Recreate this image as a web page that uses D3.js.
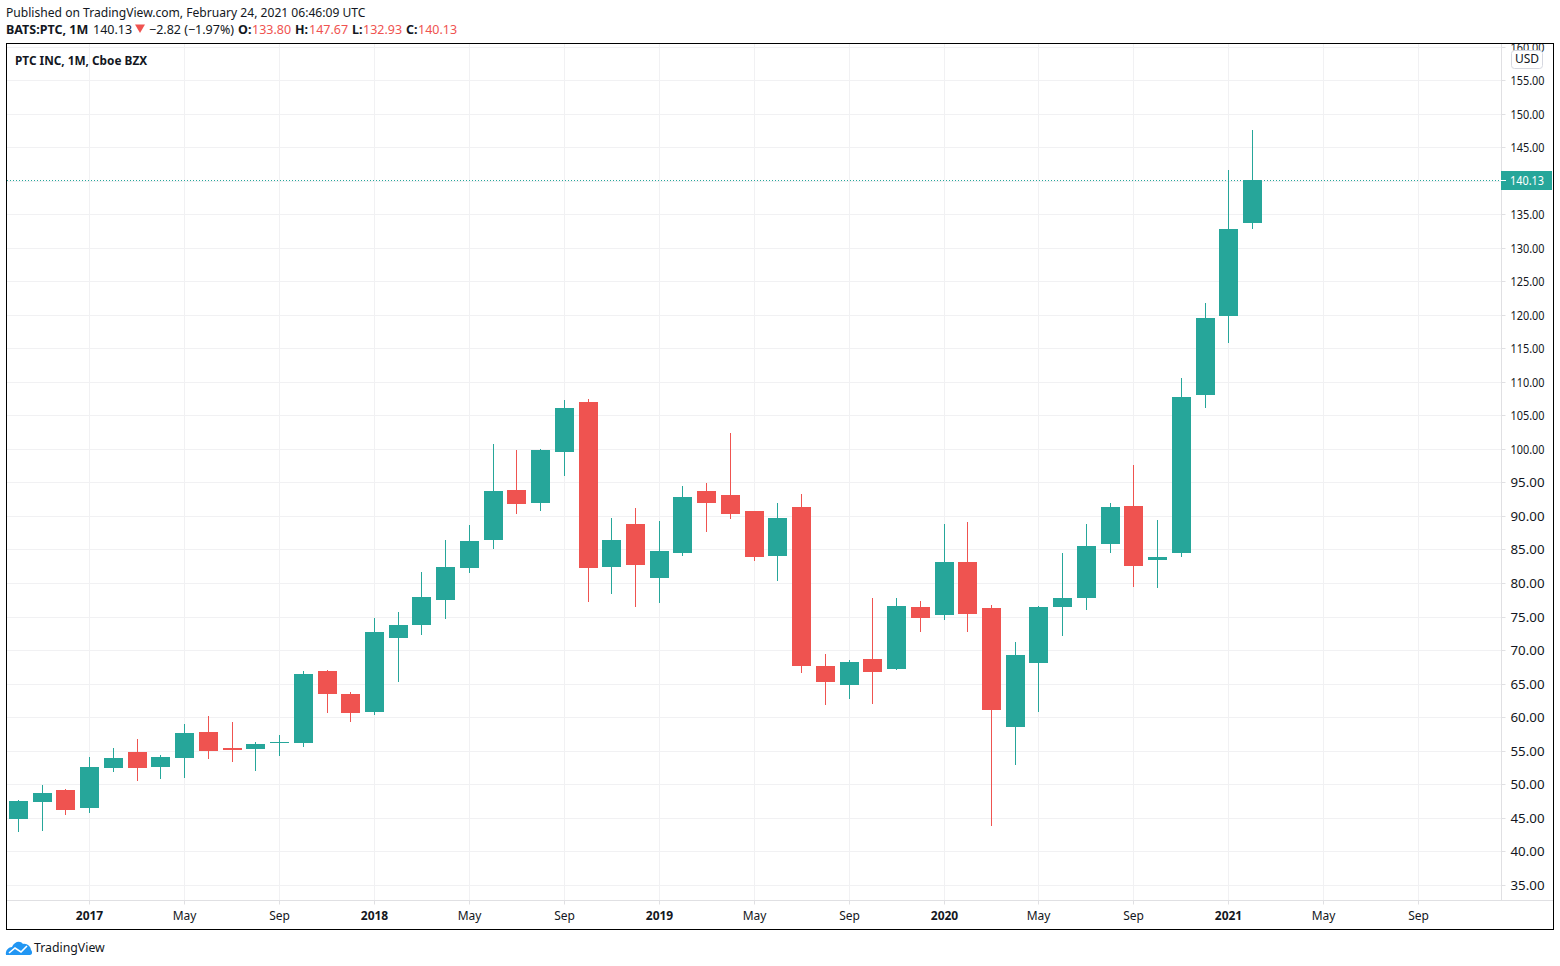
<!DOCTYPE html>
<html>
<head>
<meta charset="utf-8">
<script src="https://cdn.jsdelivr.net/npm/d3@7"></script>
<style>
  html, body { margin: 0; padding: 0; background: #fff; }
  text { font-family: "Noto Sans", sans-serif; fill: #131722; }
  .axis path { display: none; }
  .axis line { stroke: #e0e0e3; }
</style>
</head>
<body>
<div id="chart"></div>
<script>
// monthly candles, Oct 2016 to Feb 2021
const months = ['2016-10','2016-11','2016-12',
  '2017-01','2017-02','2017-03','2017-04','2017-05','2017-06','2017-07','2017-08','2017-09','2017-10','2017-11','2017-12',
  '2018-01','2018-02','2018-03','2018-04','2018-05','2018-06','2018-07','2018-08','2018-09','2018-10','2018-11','2018-12',
  '2019-01','2019-02','2019-03','2019-04','2019-05','2019-06','2019-07','2019-08','2019-09','2019-10','2019-11','2019-12',
  '2020-01','2020-02','2020-03','2020-04','2020-05','2020-06','2020-07','2020-08','2020-09','2020-10','2020-11','2020-12',
  '2021-01','2021-02'];
const opens = [44.92,47.46,49.25,
  46.56,52.53,54.91,52.68,54.02,57.90,55.51,55.36,56.26,56.26,67.00,63.56,
  60.88,71.92,73.86,77.59,82.36,86.54,93.99,92.05,99.66,107.12,82.51,88.92,
  80.87,84.60,93.84,93.25,90.86,84.15,91.46,67.74,64.91,68.79,67.29,76.54,
  75.35,83.25,76.39,58.64,68.19,76.54,77.88,85.94,91.61,83.55,84.60,108.16,
  119.95,133.80];
const highs = [47.75,49.99,49.40,
  54.17,55.51,56.85,54.47,59.09,60.28,59.39,56.41,57.45,67.00,67.15,63.86,
  74.90,75.80,81.76,86.54,88.77,100.85,99.96,100.11,107.42,107.57,89.82,91.31,
  89.37,94.59,95.04,102.50,90.86,92.05,93.40,69.53,68.64,77.88,77.88,77.44,
  88.92,89.22,76.84,71.32,76.69,84.60,88.92,92.05,97.72,89.52,110.70,121.89,
  141.72,147.67];
const lows = [42.98,43.13,45.52,
  45.81,51.93,50.59,50.89,51.03,53.87,53.42,52.08,54.32,55.66,60.73,59.39,
  60.43,65.35,72.37,74.75,81.61,85.19,90.41,90.86,96.08,77.29,78.48,76.54,
  77.14,84.15,87.73,89.67,83.40,80.42,66.70,61.92,62.82,62.07,67.15,72.81,
  74.60,72.81,43.88,52.97,60.88,72.22,76.09,84.60,79.52,79.38,84.00,106.22,
  115.92,132.93];
const closes = [47.60,48.80,46.26,
  52.68,54.02,52.53,54.17,57.75,55.06,55.21,56.11,56.41,66.55,63.56,60.73,
  72.81,73.86,78.03,82.51,86.39,93.84,91.91,99.96,106.22,82.36,86.54,82.81,
  84.89,92.95,92.05,90.41,84.00,89.82,67.74,65.35,68.34,66.85,76.69,74.90,
  83.25,75.50,61.18,69.38,76.54,77.88,85.64,91.46,82.66,84.00,107.87,119.65,
  132.92,140.13];

const priceTicks = d3.range(35, 161, 5);
const lastPrice = 140.13;

// month index of each label on the time axis
const timeTickIdx = [3,7,11,15,19,23,27,31,35,39,43,47,51,55,59];
const timeTickLabels = ['2017','May','Sep','2018','May','Sep','2019','May','Sep','2020','May','Sep','2021','May','Sep'];

const width = 1560, height = 966;
const left = 7, right = 1501, top_ = 44, bottom = 900, frameR = 1553, frameB = 929;
const green = '#26a69a', red = '#ef5350', grid = '#f1f1f3';

const svg = d3.select('#chart').append('svg')
  .attr('width', width).attr('height', height)
  .style('display', 'block');

svg.append('defs').append('clipPath').attr('id', 'plotClip').append('rect')
  .attr('x', left).attr('y', top_).attr('width', frameR - left).attr('height', frameB - top_);

const x = d3.scaleLinear().domain([0, 52]).range([18.5, 1252.5]);
const y = d3.scaleLinear().domain([155, 35]).range([80.7, 885.2]);
const px = v => Math.floor(x(v));

const root = svg.append('g').attr('clip-path', 'url(#plotClip)');

// grid
root.append('g').selectAll('line').data(priceTicks).join('line')
  .attr('x1', left).attr('x2', right)
  .attr('y1', d => Math.floor(y(d)) + 0.5).attr('y2', d => Math.floor(y(d)) + 0.5)
  .attr('stroke', grid);
root.append('g').selectAll('line').data(timeTickIdx).join('line')
  .attr('x1', d => px(d) + 0.5).attr('x2', d => px(d) + 0.5)
  .attr('y1', top_).attr('y2', bottom)
  .attr('stroke', grid);

// axes
const yAxis = root.append('g').attr('class', 'axis')
  .attr('transform', `translate(${right + 0.5},0)`)
  .call(d3.axisRight(y).tickValues(priceTicks).tickSize(4).tickFormat(d3.format('.2f')));
yAxis.selectAll('.tick').attr('transform', d => `translate(0,${Math.floor(y(d)) + 0.5})`);
yAxis.selectAll('text')
  .attr('font-size', 12).attr('x', 9).attr('dy', '0.4em')
  .attr('textLength', 34).attr('lengthAdjust', 'spacingAndGlyphs');

const xAxis = root.append('g').attr('class', 'axis')
  .attr('transform', `translate(0,${bottom + 0.5})`)
  .call(d3.axisBottom(x).tickValues(timeTickIdx).tickSize(4).tickPadding(7)
    .tickFormat((d, i) => timeTickLabels[i]));
xAxis.selectAll('.tick').attr('transform', d => `translate(${px(d) + 0.5},0)`);
xAxis.selectAll('text')
  .attr('font-size', 12)
  .attr('font-weight', (d, i) => /^\d+$/.test(timeTickLabels[i]) ? 700 : 400);

root.append('line').attr('x1', right + 0.5).attr('x2', right + 0.5).attr('y1', top_).attr('y2', bottom + 0.5).attr('stroke', '#e0e0e3');
root.append('line').attr('x1', left).attr('x2', frameR).attr('y1', bottom + 0.5).attr('y2', bottom + 0.5).attr('stroke', '#e0e0e3');

// candles
const candles = root.append('g').selectAll('g').data(months).join('g');
const colorOf = i => closes[i] >= opens[i] ? green : red;
candles.append('line')
  .attr('x1', (d, i) => px(i) + 0.5).attr('x2', (d, i) => px(i) + 0.5)
  .attr('y1', (d, i) => Math.round(y(highs[i]))).attr('y2', (d, i) => Math.round(y(lows[i])))
  .attr('stroke', (d, i) => colorOf(i));
candles.append('rect')
  .attr('x', (d, i) => px(i) - 9).attr('width', 19)
  .attr('y', (d, i) => Math.round(y(Math.max(opens[i], closes[i]))))
  .attr('height', (d, i) => Math.max(1, Math.round(y(Math.min(opens[i], closes[i]))) - Math.round(y(Math.max(opens[i], closes[i])))))
  .attr('fill', (d, i) => colorOf(i));

// last price line and label
const lastY = Math.floor(y(lastPrice)) + 0.5;
root.append('line').attr('x1', left).attr('x2', right).attr('y1', lastY).attr('y2', lastY)
  .attr('stroke', green).attr('stroke-dasharray', '1 2').attr('shape-rendering', 'crispEdges');
root.append('rect').attr('x', right).attr('y', lastY - 9.5).attr('width', 51).attr('height', 19).attr('fill', green);
root.append('line').attr('x1', right).attr('x2', right + 5).attr('y1', lastY).attr('y2', lastY).attr('stroke', '#fff');
root.append('text').attr('x', right + 9).attr('y', lastY + 4.5).attr('font-size', 12)
  .attr('textLength', 34).attr('lengthAdjust', 'spacingAndGlyphs')
  .style('fill', '#fff').text(d3.format('.2f')(lastPrice));

// currency badge
root.append('rect').attr('x', 1511.5).attr('y', 50.5).attr('width', 31).attr('height', 18).attr('rx', 3)
  .attr('fill', '#fff').attr('stroke', '#d6d8e0');
root.append('text').attr('x', 1527).attr('y', 63).attr('text-anchor', 'middle').attr('font-size', 12).text('USD');

// frame
svg.append('rect').attr('x', 6.5).attr('y', 43.5).attr('width', 1547).attr('height', 886)
  .attr('fill', 'none').attr('stroke', '#000');

root.append('text').attr('x', 15).attr('y', 65).attr('font-size', 11.8).attr('font-weight', 700)
  .text('PTC INC, 1M, Cboe BZX');

// header
svg.append('text').attr('x', 6).attr('y', 17).attr('font-size', 12.1)
  .text('Published on TradingView.com, February 24, 2021 06:46:09 UTC');

const headerBits = [
  ['BATS:PTC, 1M', 6, 700, '#131722'],
  ['140.13', 93, 400, '#131722'],
  ['\u22122.82 (\u22121.97%)', 149, 400, '#131722'],
  ['O:', 238, 700, '#131722'],
  ['133.80', 252, 400, red],
  ['H:', 295, 700, '#131722'],
  ['147.67', 309, 400, red],
  ['L:', 352, 700, '#131722'],
  ['132.93', 363, 400, red],
  ['C:', 406, 700, '#131722'],
  ['140.13', 418, 400, red]
];
svg.append('g').selectAll('text').data(headerBits).join('text')
  .attr('x', d => d[1]).attr('y', 34).attr('font-size', 12.5)
  .attr('font-weight', d => d[2]).style('fill', d => d[3]).text(d => d[0]);
svg.append('path').attr('d', 'M135,24.5H145L140,33Z').attr('fill', red);

// logo
const logo = svg.append('g');
logo.append('path')
  .attr('d', 'M6,955 C5,950 9,947 12,947 C14,942 20,940 23,944 C27,943 31,947 31,950 C33,952 32,955 30,955 Z')
  .attr('fill', '#2196f3');
logo.append('path').attr('d', 'M9,953 L15,948 L21,952 L27,946')
  .attr('fill', 'none').attr('stroke', '#fff').attr('stroke-width', 1.6);
svg.append('text').attr('x', 34).attr('y', 952).attr('font-size', 12.3).text('TradingView');
</script>
</body>
</html>
